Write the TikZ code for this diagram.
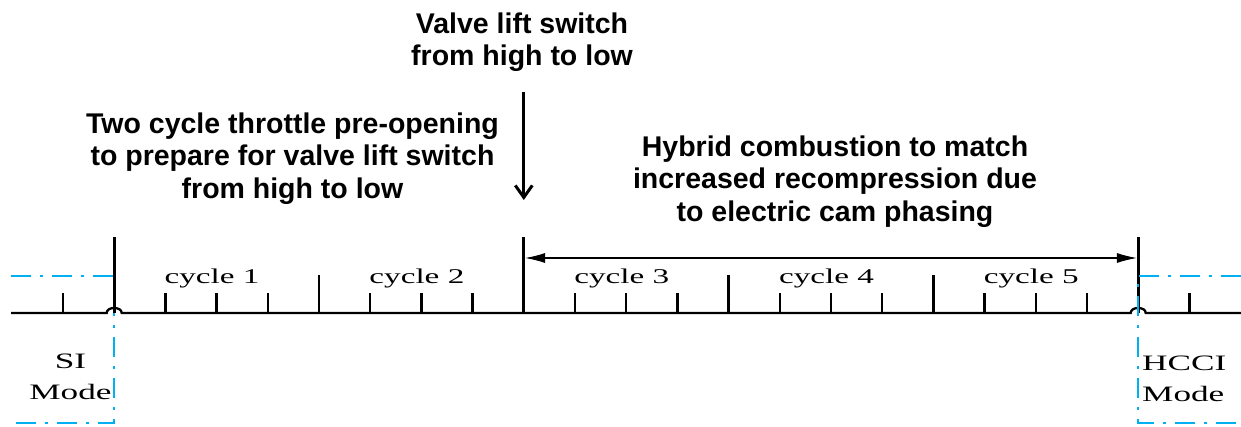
\documentclass[tikz,border=0pt]{standalone}
\usepackage{fontspec}
\setmainfont{Liberation Serif}
\setsansfont{Liberation Sans}
\usetikzlibrary{arrows.meta}
\definecolor{modeblue}{RGB}{0,176,240}
\begin{document}
\begin{tikzpicture}[x=1pt,y=-1pt,
  axisline/.style={line width=2.3pt, black},
  tickline/.style={line width=2.3pt, black},
  tallline/.style={line width=2.8pt, black},
  modeline/.style={line width=2.2pt, modeblue, dash pattern=on 20pt off 9pt on 3pt off 9pt},
  cyclelabel/.style={font=\fontsize{21}{24}\selectfont, anchor=base, inner sep=0pt},
  modelabel/.style={font=\fontsize{22}{31}\selectfont, inner sep=0pt},
  note/.style={font=\sffamily\bfseries\fontsize{28.5}{32.5}\selectfont, align=center, anchor=north, inner sep=0pt},
  spanarrow/.style={line width=1.1pt, {Latex[length=20pt,width=10pt]}-{Latex[length=20pt,width=10pt]}},
  eventarrow/.style={line width=3pt, -{Straight Barb[length=12pt,width=17pt]}}
]
\useasboundingbox (0,0) rectangle (1241,427);

% mode boundary (left, under the black lines)
\draw[modeline] (11,276) -- (114.2,276) -- (114.2,423) -- (11,423);

% time axis with hops over the mode boundaries
\coordinate (axL) at (11,313);
\coordinate (axR) at (1241,313);
\draw[axisline] (axL) -- (106.7,313) .. controls (106.7,306.3) and (121.7,306.3) .. (121.7,313)
  -- (1130.7,313) .. controls (1130.7,306.3) and (1145.7,306.3) .. (1145.7,313) -- (axR);

% short ticks
\foreach \n in {0,2,3,4,6,7,8,10,11,12,14,15,16,18,19,20,22}
  \draw[tickline] ({63+51.2*\n},313) -- ({63+51.2*\n},293);
% cycle boundaries
\foreach \n in {5,13,17}
  \draw[tickline] ({63+51.2*\n},313) -- ({63+51.2*\n},275);
% tall event lines
\foreach \n in {1,9,21}
  \draw[tallline] ({63+51.2*\n},313) -- ({63+51.2*\n},237);

% mode boundary (right, over the black line)
\draw[modeline] (1241,276) -- (1138.2,276) -- (1138.2,423) -- (1241,423);

% cycle labels
\foreach \k in {1,...,5}
  \node[cyclelabel] (cyc\k) at ({114.2+204.8*\k-102.4-4.5},284) {\scalebox{1.58}[1]{cycle \k}};

% mode labels
\node[modelabel, align=center, anchor=north] (si) at (70.5,354) {\scalebox{1.6}[1]{SI}\\\scalebox{1.6}[1]{Mode}};
\node[modelabel, align=left, anchor=north west] (hcci) at (1142,355.5) {\scalebox{1.6}[1]{HCCI}\\\scalebox{1.6}[1]{Mode}};

% annotations
\node[note] (valve) at (522,12.5) {Valve lift switch\\from high to low};
\node[note] (throttle) at (292.5,112.5) {Two cycle throttle pre-opening\\to prepare for valve lift switch\\from high to low};
\node[note] (hybrid) at (835,135.5) {Hybrid combustion to match\\increased recompression due\\to electric cam phasing};

% arrows
\coordinate (evTop) at (523.8,92);
\coordinate (evTip) at (523.8,200);
\draw[eventarrow] (evTop) -- (evTip);
\coordinate (spanL) at (525.1,258);
\coordinate (spanR) at (1136.9,258);
\draw[spanarrow] (spanL) -- (spanR);
\end{tikzpicture}
\end{document}
